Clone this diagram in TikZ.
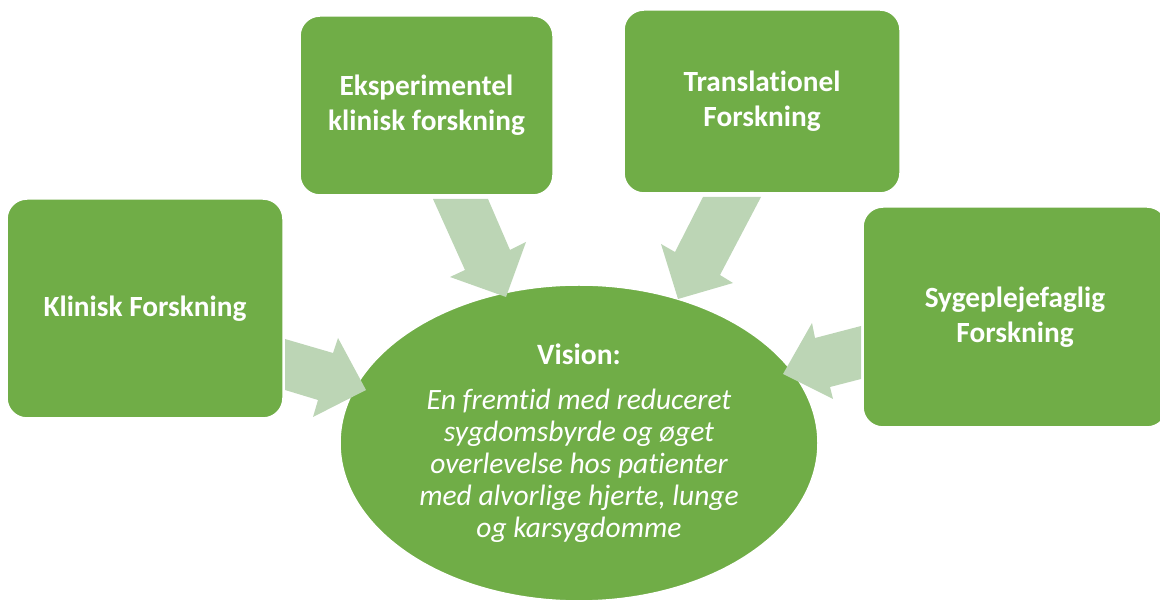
\documentclass[tikz,border=0pt]{standalone}
\usepackage{fontspec}
\setmainfont{Carlito}[Ligatures=NoCommon]
\usetikzlibrary{shapes.geometric}
\definecolor{boxgreen}{HTML}{70AD47}
\definecolor{arrowgreen}{HTML}{BCD5B5}
\begin{document}
\begin{tikzpicture}[x=1pt,y=-1pt,
  box/.style={rectangle, rounded corners=20pt, fill=boxgreen, draw=white, line width=1.5pt,
    text=white, align=center, font=\fontsize{29.3}{35}\selectfont\bfseries, inner sep=0pt},
  visionshape/.style={ellipse, fill=boxgreen, draw=white, line width=1.5pt, text=white,
    align=center, inner sep=0pt, font=\fontsize{29.5}{32}\selectfont\itshape},
  blockarrow/.style={fill=arrowgreen}]
\useasboundingbox (0,0) rectangle (1160,601);

% central ellipse
\node[visionshape, minimum width=478pt, minimum height=316pt] (vision) at (579,443)
  {{\fontsize{29.5}{35}\selectfont\bfseries\upshape Vision:}\\[13pt]
   En fremtid med reduceret\\
   sygdomsbyrde og øget\\
   overlevelse hos patienter\\
   med alvorlige hjerte, lunge\\
   og karsygdomme};

% block arrows
\fill[blockarrow] (285,339) -- (333,353) -- (338,338) -- (366,390) -- (313,417) -- (318,400) -- (285,390) -- cycle;
\fill[blockarrow] (433,199) -- (488,199) -- (510,250) -- (526,242) -- (506,297) -- (450,277) -- (465,270) -- cycle;
\fill[blockarrow] (703,197) -- (761,197) -- (720,275) -- (733,283) -- (678,299) -- (661,244) -- (675,252) -- cycle;
\fill[blockarrow] (861,326) -- (861,379) -- (830,387) -- (833,399) -- (783,374) -- (812,323) -- (815,338) -- cycle;

% boxes
\node[box, minimum width=276pt, minimum height=219pt] (klin) at (145,308.5) {Klinisk Forskning};
\node[box, minimum width=253pt, minimum height=179pt] (eksp) at (426.5,105.5) {Eksperimentel\\klinisk forskning};
\node[box, minimum width=276pt, minimum height=183pt] (trans) at (762,101.5) {Translationel\\Forskning};
\node[box, minimum width=304pt, minimum height=220pt] (syge) at (1015,317) {Sygeplejefaglig\\Forskning};
\end{tikzpicture}
\end{document}
